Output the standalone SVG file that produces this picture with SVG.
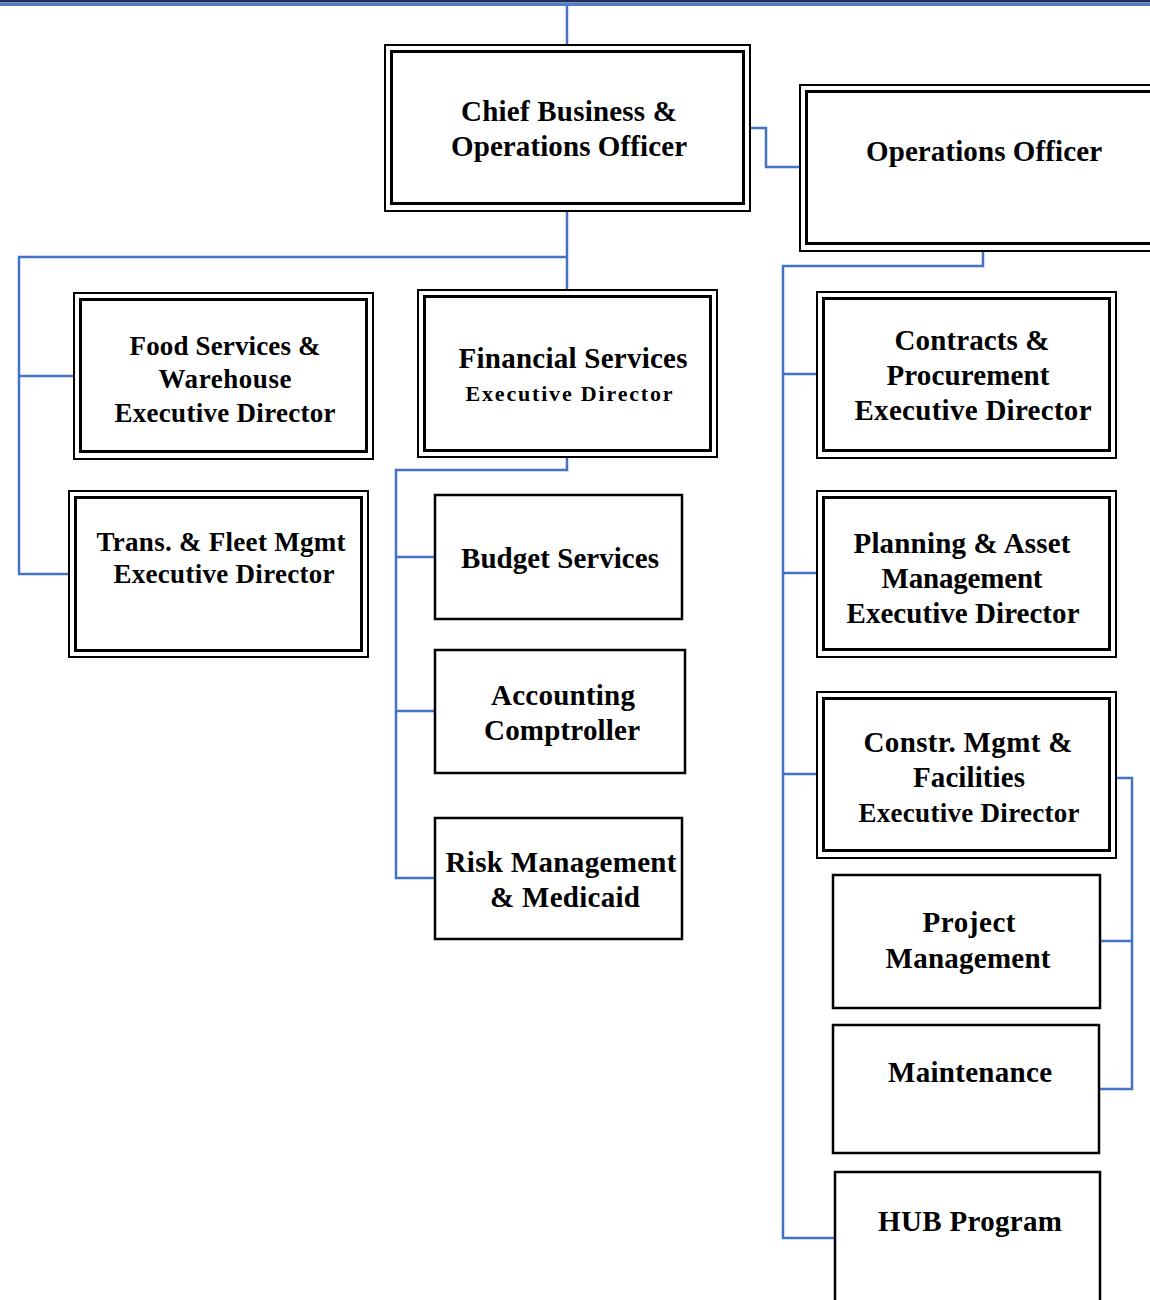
<svg xmlns="http://www.w3.org/2000/svg" width="1150" height="1300" viewBox="0 0 1150 1300">
<style>
.o{fill:none;stroke:#000;stroke-width:2}
.i{fill:none;stroke:#000;stroke-width:3}
.s{fill:#fff;stroke:#000;stroke-width:2.5}
.c{fill:none;stroke:#4472C4;stroke-width:2.5}
text{font-family:"Liberation Serif","Times New Roman",serif;font-weight:bold;font-size:29px;fill:#000;text-anchor:middle}
.m{font-size:27px}
.sm{font-size:22px}
</style>
<rect x="0" y="0" width="1150" height="1300" fill="#fff"/>
<rect x="0" y="0" width="1150" height="2.5" fill="#1F2A5C"/>
<rect x="0" y="3" width="1150" height="3" fill="#4F7CC9"/>
<g id="connectors">
<path class="c" d="M567,6 V44"/>
<path class="c" d="M751,128 H766 V167 H800"/>
<path class="c" d="M567,212 V290 M567,257 H19 V574 H69 M19,376 H73"/>
<path class="c" d="M567,457 V470 H396 V878 H435 M396,557 H435 M396,711 H435"/>
<path class="c" d="M983,252 V266 H783 V1238 H834 M783,374 H817 M783,573 H817 M783,774 H817"/>
<path class="c" d="M1116,778 H1132 V1089 H1099 M1132,941 H1100"/>
</g>
<g id="chief">
<rect class="o" x="385" y="45" width="365" height="166"/>
<rect class="i" x="391.5" y="51.5" width="352" height="152"/>
<text x="569" y="121" textLength="216" lengthAdjust="spacing">Chief Business &amp;</text>
<text x="569" y="156" textLength="236" lengthAdjust="spacing">Operations Officer</text>
</g>
<g id="ops">
<rect class="o" x="800" y="85" width="400" height="166"/>
<rect class="i" x="806.5" y="91.5" width="400" height="152"/>
<text x="984" y="161" textLength="236" lengthAdjust="spacing">Operations Officer</text>
</g>
<g id="food">
<rect class="o" x="74" y="293" width="299" height="166"/>
<rect class="i" x="80.5" y="299.5" width="286" height="152"/>
<text class="m" x="225" y="355" textLength="191" lengthAdjust="spacing">Food Services &amp;</text>
<text class="m" x="225" y="388" textLength="133" lengthAdjust="spacing">Warehouse</text>
<text class="m" x="225" y="422" textLength="221" lengthAdjust="spacing">Executive Director</text>
</g>
<g id="trans">
<rect class="o" x="69" y="491" width="299" height="166"/>
<rect class="i" x="75.5" y="497.5" width="286" height="153"/>
<text class="m" x="221" y="551" textLength="249" lengthAdjust="spacing">Trans. &amp; Fleet Mgmt</text>
<text class="m" x="224" y="583" textLength="221" lengthAdjust="spacing">Executive Director</text>
</g>
<g id="financial">
<rect class="o" x="418" y="290" width="299" height="167"/>
<rect class="i" x="424.5" y="296.5" width="286" height="154"/>
<text x="573" y="368" textLength="229" lengthAdjust="spacing">Financial Services</text>
<text class="sm" x="569" y="401" textLength="207" lengthAdjust="spacing">Executive Director</text>
</g>
<g id="budget">
<rect class="s" x="435" y="495" width="247" height="124"/>
<text x="560" y="568" textLength="198" lengthAdjust="spacing">Budget Services</text>
</g>
<g id="accounting">
<rect class="s" x="435" y="650" width="250" height="123"/>
<text x="563" y="705" textLength="144" lengthAdjust="spacing">Accounting</text>
<text x="562" y="740" textLength="156" lengthAdjust="spacing">Comptroller</text>
</g>
<g id="risk">
<rect class="s" x="435" y="818" width="247" height="121"/>
<text x="561" y="872" textLength="231" lengthAdjust="spacing">Risk Management</text>
<text x="565" y="907" textLength="150" lengthAdjust="spacing">&amp; Medicaid</text>
</g>
<g id="contracts">
<rect class="o" x="817" y="292" width="299" height="166"/>
<rect class="i" x="823.5" y="298.5" width="286" height="152"/>
<text x="972" y="350" textLength="155" lengthAdjust="spacing">Contracts &amp;</text>
<text x="968" y="385" textLength="163" lengthAdjust="spacing">Procurement</text>
<text x="973" y="420" textLength="237" lengthAdjust="spacing">Executive Director</text>
</g>
<g id="planning">
<rect class="o" x="817" y="491" width="299" height="166"/>
<rect class="i" x="823.5" y="497.5" width="286" height="152"/>
<text x="962" y="553" textLength="217" lengthAdjust="spacing">Planning &amp; Asset</text>
<text x="962" y="588" textLength="161" lengthAdjust="spacing">Management</text>
<text x="963" y="623" textLength="233" lengthAdjust="spacing">Executive Director</text>
</g>
<g id="constr">
<rect class="o" x="817" y="692" width="299" height="166"/>
<rect class="i" x="823.5" y="698.5" width="286" height="152"/>
<text x="968" y="752" textLength="209" lengthAdjust="spacing">Constr. Mgmt &amp;</text>
<text x="969" y="787" textLength="112" lengthAdjust="spacing">Facilities</text>
<text class="m" x="969" y="822" textLength="221" lengthAdjust="spacing">Executive Director</text>
</g>
<g id="project">
<rect class="s" x="833" y="875" width="267" height="133"/>
<text x="969" y="932" textLength="93" lengthAdjust="spacing">Project</text>
<text x="968" y="968" textLength="165" lengthAdjust="spacing">Management</text>
</g>
<g id="maintenance">
<rect class="s" x="833" y="1025" width="266" height="128"/>
<text x="970" y="1082" textLength="164" lengthAdjust="spacing">Maintenance</text>
</g>
<g id="hub">
<rect class="s" x="835" y="1172" width="265" height="160"/>
<text x="970" y="1231" textLength="184" lengthAdjust="spacing">HUB Program</text>
</g>
</svg>
